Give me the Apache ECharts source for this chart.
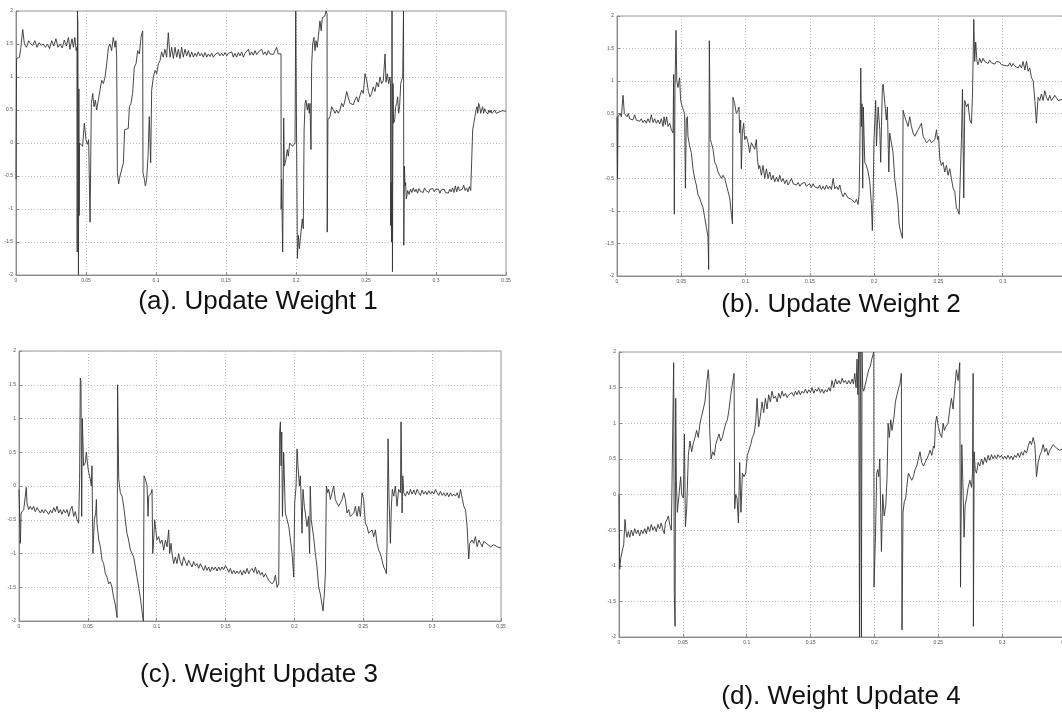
<!DOCTYPE html>
<html><head><meta charset="utf-8">
<script src="https://cdn.jsdelivr.net/npm/echarts@6/dist/echarts.min.js"></script>
<style>html,body{margin:0;padding:0;overflow:hidden;background:#fff}#c{width:1076px;height:713px}</style>
</head><body><div id="c"></div><script>
// [time (s), weight value]
const w1 = [[0,-0.55],[0.0004,1.28],[0.0025,1.3],[0.0035,1.45],[0.0048,1.72],[0.006,1.5],[0.0075,1.45],[0.009,1.55],[0.0105,1.5],[0.012,1.48],[0.0135,1.55],[0.015,1.45],[0.0165,1.52],[0.018,1.48],[0.0195,1.5],[0.021,1.45],[0.0225,1.5],[0.024,1.43],[0.0255,1.55],[0.027,1.47],[0.0285,1.58],[0.03,1.45],[0.0315,1.5],[0.033,1.44],[0.0345,1.56],[0.036,1.47],[0.0375,1.6],[0.0385,1.42],[0.04,1.58],[0.041,1.45],[0.042,1.6],[0.043,1.4],[0.0436,1.45],[0.0437,-1.65],[0.0439,2.0],[0.0442,1.8],[0.0446,-2.0],[0.0449,0.82],[0.0451,-1.1],[0.0454,0.0],[0.0476,-0.05],[0.0488,0.3],[0.05,0.05],[0.051,-0.02],[0.0519,0.05],[0.0529,-1.2],[0.0538,0.6],[0.0548,0.75],[0.0557,0.55],[0.0567,0.65],[0.0576,0.5],[0.0588,0.65],[0.06,0.8],[0.0612,0.95],[0.0624,0.9],[0.0636,1.0],[0.0648,1.2],[0.066,1.45],[0.0671,1.5],[0.0683,1.4],[0.0695,1.6],[0.0707,1.45],[0.0714,1.55],[0.0719,1.3],[0.0724,-0.45],[0.0733,-0.62],[0.0743,-0.5],[0.0757,-0.5],[0.0767,-0.3],[0.0776,0.2],[0.079,0.22],[0.0802,0.22],[0.081,0.55],[0.0821,0.6],[0.0833,0.75],[0.0845,1.15],[0.0857,1.2],[0.0869,1.4],[0.0881,1.35],[0.0893,1.6],[0.0905,1.7],[0.0907,-0.45],[0.0917,-0.55],[0.0924,-0.65],[0.0933,-0.55],[0.0943,-0.2],[0.0952,0.4],[0.0962,-0.3],[0.0969,0.8],[0.0981,1.0],[0.0993,1.1],[0.1005,1.05],[0.1017,1.2],[0.1029,1.25],[0.104,1.38],[0.1052,1.3],[0.1064,1.42],[0.1076,1.3],[0.1088,1.67],[0.11,1.3],[0.1112,1.45],[0.1124,1.28],[0.1136,1.45],[0.1148,1.3],[0.116,1.42],[0.1171,1.28],[0.1183,1.45],[0.1195,1.3],[0.1207,1.42],[0.1219,1.32],[0.1231,1.4],[0.1243,1.3],[0.1255,1.38],[0.1267,1.3],[0.1279,1.36],[0.129,1.31],[0.1302,1.38],[0.1314,1.32],[0.1326,1.36],[0.1338,1.3],[0.135,1.37],[0.1362,1.3],[0.1374,1.35],[0.1386,1.31],[0.1398,1.36],[0.141,1.3],[0.1422,1.34],[0.1433,1.31],[0.1445,1.37],[0.1457,1.32],[0.1469,1.36],[0.1481,1.32],[0.1493,1.37],[0.1505,1.32],[0.1517,1.36],[0.1529,1.34],[0.1541,1.38],[0.1552,1.3],[0.1564,1.36],[0.1576,1.3],[0.1588,1.37],[0.16,1.32],[0.1612,1.38],[0.1624,1.3],[0.1636,1.36],[0.1648,1.34],[0.166,1.42],[0.1671,1.33],[0.1683,1.38],[0.1695,1.33],[0.1707,1.4],[0.1719,1.34],[0.1731,1.38],[0.1743,1.35],[0.1755,1.42],[0.1767,1.34],[0.1779,1.38],[0.179,1.33],[0.1802,1.4],[0.1814,1.35],[0.1826,1.37],[0.1838,1.34],[0.185,1.4],[0.1862,1.45],[0.1872,1.35],[0.1881,1.33],[0.1893,1.35],[0.1894,-1.0],[0.1897,-0.55],[0.19,-1.0],[0.1905,-1.65],[0.1912,0.38],[0.1917,-0.35],[0.1928,-0.25],[0.1938,-0.1],[0.1945,-0.2],[0.1955,0.0],[0.1975,-0.05],[0.1993,0.0],[0.1998,2.0],[0.2001,2.0],[0.201,-1.75],[0.2017,-1.4],[0.2024,-1.6],[0.2029,-1.5],[0.2038,-1.3],[0.2045,-1.15],[0.2052,-1.3],[0.2058,0.2],[0.2065,0.6],[0.2071,0.65],[0.2081,0.5],[0.2088,0.6],[0.2095,0.45],[0.21,0.6],[0.2107,-0.1],[0.2112,1.2],[0.2119,1.5],[0.2128,1.6],[0.2136,1.4],[0.2143,1.55],[0.2152,1.45],[0.216,1.62],[0.2171,1.85],[0.218,1.7],[0.2188,1.9],[0.2205,1.92],[0.2215,2.0],[0.2222,1.95],[0.2223,-1.35],[0.2228,0.35],[0.2243,0.4],[0.2255,0.55],[0.2267,0.5],[0.2279,0.45],[0.229,0.5],[0.2302,0.45],[0.2314,0.5],[0.2326,0.6],[0.2338,0.55],[0.235,0.65],[0.2362,0.78],[0.2374,0.68],[0.2386,0.6],[0.2398,0.62],[0.241,0.58],[0.2421,0.65],[0.2433,0.7],[0.2445,0.62],[0.2457,0.72],[0.2469,0.8],[0.2481,0.75],[0.2493,1.05],[0.2505,0.95],[0.2517,0.78],[0.2529,0.7],[0.254,0.75],[0.2552,0.85],[0.2564,0.78],[0.2576,0.92],[0.2588,0.85],[0.26,1.0],[0.2612,0.9],[0.2624,0.95],[0.2636,1.35],[0.2643,0.92],[0.2652,1.05],[0.2662,0.9],[0.2671,1.0],[0.2675,0.9],[0.2676,-1.25],[0.2679,-0.6],[0.2683,-1.5],[0.2686,2.0],[0.2689,-1.95],[0.2693,0.9],[0.2697,0.3],[0.2705,0.35],[0.2712,0.55],[0.2719,0.6],[0.2726,0.7],[0.2733,0.45],[0.274,0.55],[0.2748,0.9],[0.2755,0.95],[0.2762,1.0],[0.2768,2.0],[0.277,-1.55],[0.2774,-0.35],[0.2779,-0.65],[0.2783,-0.6],[0.2788,-0.85],[0.2798,-0.72],[0.2808,-0.78],[0.2818,-0.7],[0.2828,-0.75],[0.2838,-0.68],[0.2848,-0.74],[0.2858,-0.7],[0.2868,-0.76],[0.2878,-0.69],[0.2888,-0.73],[0.2898,-0.7],[0.2908,-0.75],[0.2918,-0.68],[0.2928,-0.72],[0.2938,-0.7],[0.2948,-0.75],[0.2958,-0.7],[0.2968,-0.73],[0.2978,-0.69],[0.2988,-0.74],[0.2998,-0.7],[0.3008,-0.72],[0.3018,-0.7],[0.3028,-0.76],[0.3038,-0.71],[0.3048,-0.74],[0.3058,-0.7],[0.3068,-0.75],[0.3078,-0.72],[0.3088,-0.76],[0.3098,-0.7],[0.3108,-0.74],[0.3118,-0.68],[0.3128,-0.75],[0.3138,-0.65],[0.3148,-0.74],[0.3158,-0.66],[0.3168,-0.72],[0.3178,-0.75],[0.3188,-0.7],[0.3198,-0.64],[0.3208,-0.72],[0.3218,-0.68],[0.3228,-0.74],[0.3238,-0.66],[0.3248,-0.72],[0.3256,-0.7],[0.3262,0.2],[0.327,0.3],[0.3278,0.4],[0.3286,0.5],[0.3293,0.55],[0.3298,0.45],[0.3305,0.6],[0.3312,0.55],[0.3319,0.45],[0.3326,0.5],[0.3333,0.55],[0.334,0.45],[0.3348,0.52],[0.3355,0.48],[0.3362,0.5],[0.337,0.44],[0.3378,0.5],[0.3386,0.46],[0.3393,0.5],[0.34,0.45],[0.341,0.48],[0.342,0.5],[0.343,0.45],[0.344,0.48],[0.345,0.47],[0.3475,0.49],[0.35,0.48]];

const w2 = [[0,0.45],[0.0004,-0.5],[0.0008,0.45],[0.0015,0.42],[0.0023,0.5],[0.0034,0.45],[0.0047,0.78],[0.0057,0.5],[0.0067,0.48],[0.0078,0.45],[0.0088,0.5],[0.0099,0.42],[0.0112,0.45],[0.0124,0.4],[0.0137,0.48],[0.015,0.4],[0.0163,0.42],[0.0176,0.38],[0.0189,0.42],[0.0202,0.36],[0.0215,0.4],[0.0228,0.35],[0.0241,0.42],[0.0254,0.36],[0.0267,0.48],[0.028,0.36],[0.0293,0.42],[0.0306,0.35],[0.0319,0.4],[0.0332,0.34],[0.0345,0.42],[0.0358,0.3],[0.0366,0.45],[0.0376,0.33],[0.0386,0.45],[0.0397,0.3],[0.041,0.35],[0.0423,0.25],[0.0436,0.2],[0.044,0.2],[0.0441,1.1],[0.0446,-1.05],[0.0451,0.9],[0.0459,1.78],[0.0465,1.0],[0.0474,0.9],[0.0487,1.05],[0.0495,0.7],[0.0508,0.6],[0.0519,0.62],[0.0526,0.5],[0.0532,-0.65],[0.0539,0.4],[0.0547,0.45],[0.0552,0.15],[0.0565,0.0],[0.0578,-0.1],[0.0591,-0.35],[0.0604,-0.5],[0.0617,-0.6],[0.063,-0.75],[0.0643,-0.8],[0.0656,-0.88],[0.0669,-0.95],[0.0682,-1.1],[0.0695,-1.25],[0.0708,-1.4],[0.0713,-1.9],[0.0718,1.62],[0.0726,0.1],[0.0734,0.05],[0.0747,-0.05],[0.076,-0.25],[0.0773,-0.3],[0.0786,-0.4],[0.0799,-0.45],[0.0812,-0.5],[0.0825,-0.45],[0.0838,-0.5],[0.0851,-0.6],[0.0864,-0.7],[0.0877,-0.8],[0.089,-1.05],[0.0898,-1.2],[0.0902,0.75],[0.0915,0.65],[0.0928,0.5],[0.0941,0.55],[0.0949,0.6],[0.0954,0.2],[0.0962,0.4],[0.0967,-0.35],[0.0975,0.2],[0.0985,0.35],[0.0993,0.1],[0.1006,0.15],[0.1019,0.05],[0.1032,-0.1],[0.1045,0.05],[0.1058,0.0],[0.1071,-0.05],[0.1084,0.1],[0.1092,-0.2],[0.1102,-0.35],[0.111,-0.3],[0.1123,-0.45],[0.1136,-0.3],[0.1149,-0.5],[0.1162,-0.35],[0.1175,-0.5],[0.1188,-0.4],[0.1201,-0.52],[0.1214,-0.45],[0.1227,-0.55],[0.124,-0.48],[0.1253,-0.55],[0.1266,-0.45],[0.1279,-0.55],[0.1292,-0.5],[0.1305,-0.58],[0.1318,-0.52],[0.1331,-0.6],[0.1344,-0.55],[0.1357,-0.5],[0.137,-0.58],[0.1383,-0.55],[0.1396,-0.6],[0.1409,-0.56],[0.1422,-0.62],[0.1435,-0.58],[0.1447,-0.6],[0.146,-0.56],[0.1473,-0.62],[0.1486,-0.6],[0.1499,-0.58],[0.1512,-0.64],[0.1525,-0.58],[0.1538,-0.63],[0.1551,-0.6],[0.1564,-0.65],[0.1577,-0.6],[0.159,-0.67],[0.1603,-0.62],[0.1616,-0.67],[0.1629,-0.6],[0.1642,-0.66],[0.1655,-0.62],[0.1668,-0.67],[0.1681,-0.5],[0.1694,-0.66],[0.1707,-0.62],[0.172,-0.67],[0.1733,-0.6],[0.1746,-0.72],[0.1759,-0.78],[0.1772,-0.72],[0.1785,-0.75],[0.1798,-0.8],[0.1811,-0.77],[0.1824,-0.82],[0.1836,-0.8],[0.1849,-0.87],[0.1862,-0.82],[0.1875,-0.9],[0.1883,-0.75],[0.1888,-0.2],[0.1896,1.2],[0.1901,0.3],[0.1906,0.65],[0.1911,-0.65],[0.1916,0.6],[0.1927,-0.25],[0.194,-0.3],[0.1953,-0.4],[0.1966,-0.55],[0.1979,-0.9],[0.1986,-1.3],[0.1992,-0.8],[0.1999,0.1],[0.2012,0.7],[0.2018,0.0],[0.2031,0.6],[0.2044,0.25],[0.2051,-0.25],[0.2057,0.3],[0.2064,0.9],[0.207,0.95],[0.2083,0.95],[0.2095,0.4],[0.2103,0.6],[0.2114,-0.4],[0.2121,0.2],[0.2134,0.2],[0.2147,-0.1],[0.216,-0.5],[0.2173,-0.7],[0.2186,-0.9],[0.2194,-1.2],[0.2204,-1.3],[0.222,-1.42],[0.2225,0.55],[0.2238,0.45],[0.2251,0.45],[0.2264,0.3],[0.2277,0.45],[0.229,0.3],[0.2303,0.2],[0.2316,0.15],[0.2329,0.2],[0.2342,0.25],[0.2355,0.3],[0.2368,0.35],[0.2381,0.15],[0.2394,0.1],[0.2407,0.05],[0.242,0.08],[0.2433,0.1],[0.2446,0.05],[0.2459,0.05],[0.2472,0.1],[0.2485,0.25],[0.2493,0.1],[0.2501,0.15],[0.2511,-0.2],[0.2523,-0.3],[0.2536,-0.25],[0.2549,-0.4],[0.2562,-0.3],[0.2575,-0.45],[0.2588,-0.35],[0.2601,-0.5],[0.2614,-0.65],[0.2627,-0.7],[0.264,-0.95],[0.2653,-1.0],[0.2661,-1.05],[0.2671,-0.4],[0.2679,0.1],[0.2687,0.87],[0.2697,-0.8],[0.2705,0.7],[0.2718,0.6],[0.2731,0.65],[0.2744,0.4],[0.2757,0.35],[0.2765,0.8],[0.2775,1.95],[0.2782,1.3],[0.279,1.6],[0.28,1.3],[0.2808,1.25],[0.2821,1.35],[0.2834,1.28],[0.2847,1.35],[0.286,1.3],[0.2873,1.33],[0.2886,1.27],[0.2899,1.32],[0.2912,1.28],[0.2925,1.31],[0.2938,1.26],[0.2951,1.3],[0.2964,1.27],[0.2977,1.29],[0.299,1.25],[0.3003,1.28],[0.3016,1.24],[0.3029,1.27],[0.3042,1.23],[0.3055,1.28],[0.3068,1.22],[0.3081,1.27],[0.3094,1.23],[0.3107,1.26],[0.312,1.2],[0.3133,1.25],[0.3146,1.2],[0.3159,1.3],[0.3172,1.17],[0.3185,1.3],[0.3198,1.15],[0.321,1.2],[0.3224,1.05],[0.3237,1.0],[0.325,0.7],[0.3262,0.35],[0.3275,0.75],[0.3288,0.7],[0.3301,0.8],[0.3314,0.7],[0.3327,0.85],[0.334,0.75],[0.3353,0.7],[0.3366,0.78],[0.3379,0.7],[0.3392,0.72],[0.3405,0.78],[0.3418,0.75],[0.3431,0.7],[0.3444,0.72],[0.347,0.72],[0.35,0.7]];

const w3 = [[0,-0.05],[0.001,-0.85],[0.0015,-0.4],[0.0022,-0.4],[0.0034,-0.35],[0.0046,-0.15],[0.0053,-0.02],[0.0058,-0.25],[0.007,-0.35],[0.0082,-0.3],[0.0094,-0.35],[0.0106,-0.3],[0.0118,-0.38],[0.0131,-0.32],[0.0143,-0.3],[0.0155,-0.4],[0.0167,-0.35],[0.0179,-0.4],[0.0191,-0.35],[0.0203,-0.38],[0.0215,-0.42],[0.0228,-0.36],[0.024,-0.4],[0.0252,-0.32],[0.0264,-0.38],[0.0276,-0.3],[0.0288,-0.4],[0.03,-0.35],[0.0312,-0.42],[0.0324,-0.35],[0.0337,-0.4],[0.0349,-0.35],[0.0361,-0.45],[0.0373,-0.35],[0.0385,-0.3],[0.0397,-0.45],[0.0409,-0.38],[0.0421,-0.5],[0.0433,-0.55],[0.044,0.1],[0.0445,1.6],[0.045,1.55],[0.0455,-0.45],[0.046,1.0],[0.0469,0.3],[0.0482,0.35],[0.0489,0.5],[0.0499,0.3],[0.0506,0.2],[0.0518,0.1],[0.0525,0.0],[0.053,0.3],[0.0537,-1.0],[0.0547,-0.5],[0.0557,-0.4],[0.0562,-0.2],[0.0566,-0.55],[0.0579,-0.8],[0.0591,-0.9],[0.0603,-1.1],[0.0615,-1.15],[0.0627,-1.3],[0.0639,-1.35],[0.0651,-1.45],[0.0663,-1.42],[0.0675,-1.5],[0.0687,-1.65],[0.0699,-1.75],[0.0712,-1.95],[0.0716,1.5],[0.0724,0.1],[0.0736,-0.1],[0.0748,-0.15],[0.076,-0.3],[0.0772,-0.5],[0.0784,-0.7],[0.0796,-0.8],[0.0809,-0.95],[0.0821,-1.0],[0.0833,-1.05],[0.0845,-1.2],[0.0857,-1.35],[0.0869,-1.5],[0.0881,-1.65],[0.0893,-1.85],[0.0903,-2.0],[0.0908,0.15],[0.0918,0.1],[0.093,0.0],[0.0937,-0.45],[0.0942,-0.15],[0.0954,-0.15],[0.0961,-0.1],[0.0966,-0.05],[0.0971,-1.0],[0.0978,-0.8],[0.0985,-0.5],[0.0993,-0.65],[0.1002,-0.8],[0.1014,-0.75],[0.1026,-0.85],[0.1038,-0.8],[0.1051,-0.95],[0.1063,-0.8],[0.1075,-0.9],[0.1087,-0.65],[0.1094,-1.0],[0.1104,-0.85],[0.1111,-1.0],[0.1123,-1.15],[0.1135,-1.05],[0.1147,-1.15],[0.1159,-1.0],[0.1171,-1.12],[0.1183,-1.18],[0.1196,-1.05],[0.1208,-1.12],[0.122,-1.18],[0.1232,-1.1],[0.1244,-1.15],[0.1256,-1.2],[0.1268,-1.12],[0.128,-1.18],[0.1293,-1.15],[0.1305,-1.22],[0.1317,-1.15],[0.1329,-1.2],[0.1341,-1.25],[0.1353,-1.18],[0.1365,-1.25],[0.1377,-1.2],[0.1389,-1.27],[0.1402,-1.2],[0.1414,-1.24],[0.1426,-1.2],[0.1438,-1.26],[0.145,-1.2],[0.1462,-1.25],[0.1474,-1.2],[0.1486,-1.24],[0.1499,-1.18],[0.1511,-1.22],[0.1523,-1.28],[0.1535,-1.22],[0.1547,-1.3],[0.1559,-1.25],[0.1571,-1.3],[0.1583,-1.26],[0.1595,-1.3],[0.1608,-1.25],[0.162,-1.32],[0.1632,-1.25],[0.1644,-1.3],[0.1656,-1.22],[0.1668,-1.3],[0.168,-1.25],[0.1692,-1.22],[0.1705,-1.28],[0.1717,-1.2],[0.1729,-1.3],[0.1741,-1.25],[0.1753,-1.32],[0.1765,-1.28],[0.1777,-1.35],[0.1789,-1.3],[0.1801,-1.32],[0.1814,-1.4],[0.1826,-1.38],[0.1838,-1.45],[0.185,-1.42],[0.1862,-1.32],[0.1874,-1.5],[0.1886,-1.45],[0.1893,0.8],[0.1898,0.95],[0.1903,0.3],[0.1908,0.8],[0.1913,-0.45],[0.1922,0.5],[0.1934,-0.4],[0.1947,-0.5],[0.1959,-0.6],[0.1971,-0.8],[0.1983,-1.0],[0.1995,-1.35],[0.2002,-0.25],[0.2012,0.0],[0.2019,0.55],[0.2026,0.3],[0.2036,0.0],[0.2043,0.15],[0.205,-0.3],[0.2055,-0.7],[0.2062,-0.05],[0.2072,-0.3],[0.2079,-0.4],[0.2091,-0.6],[0.2103,-0.45],[0.211,-1.0],[0.2115,0.0],[0.2122,-0.5],[0.2132,-0.5],[0.2139,-0.75],[0.2152,-1.0],[0.2164,-1.2],[0.2176,-1.5],[0.2188,-1.6],[0.22,-1.75],[0.2208,-1.85],[0.2217,-1.6],[0.2225,-1.3],[0.2232,0.0],[0.2242,-0.1],[0.2249,-0.05],[0.2261,-0.2],[0.2273,-0.1],[0.2285,0.0],[0.2297,-0.2],[0.2309,-0.25],[0.2321,-0.3],[0.2334,-0.25],[0.2346,-0.2],[0.2358,-0.1],[0.237,-0.2],[0.2382,-0.4],[0.2394,-0.35],[0.2406,-0.45],[0.2418,-0.45],[0.2431,-0.4],[0.2443,-0.3],[0.2455,-0.45],[0.2467,-0.3],[0.2479,-0.45],[0.2491,-0.1],[0.2503,-0.2],[0.2515,-0.55],[0.2527,-0.6],[0.2539,-0.7],[0.2552,-0.7],[0.2564,-0.65],[0.2576,-0.75],[0.2588,-0.65],[0.26,-0.85],[0.2612,-0.95],[0.2624,-1.0],[0.2636,-1.1],[0.2648,-1.2],[0.2661,-1.25],[0.2668,-1.3],[0.2673,-0.8],[0.268,0.7],[0.2687,-0.2],[0.2697,-0.85],[0.2704,-0.3],[0.2711,-0.05],[0.2721,-0.15],[0.2733,0.0],[0.2745,-0.3],[0.2757,-0.05],[0.277,-0.1],[0.2774,0.95],[0.2782,-0.4],[0.2787,0.15],[0.2794,-0.1],[0.2806,-0.15],[0.2818,-0.08],[0.283,-0.13],[0.2842,-0.05],[0.2854,-0.12],[0.2867,-0.06],[0.2879,-0.13],[0.2891,-0.05],[0.2903,-0.1],[0.2915,-0.14],[0.2927,-0.06],[0.2939,-0.12],[0.2951,-0.08],[0.2963,-0.13],[0.2976,-0.07],[0.2988,-0.12],[0.3,-0.08],[0.3012,-0.12],[0.3024,-0.05],[0.3036,-0.1],[0.3048,-0.14],[0.306,-0.08],[0.3073,-0.14],[0.3085,-0.1],[0.3097,-0.15],[0.3109,-0.1],[0.3121,-0.16],[0.3133,-0.1],[0.3145,-0.15],[0.3157,-0.12],[0.3169,-0.15],[0.3182,-0.1],[0.3194,-0.18],[0.3206,-0.05],[0.3218,-0.18],[0.323,-0.3],[0.3242,-0.35],[0.3254,-0.6],[0.3261,-0.9],[0.3266,-1.08],[0.3273,-0.85],[0.329,-0.8],[0.3302,-0.85],[0.3314,-0.75],[0.3327,-0.9],[0.3339,-0.8],[0.3351,-0.85],[0.3363,-0.9],[0.3375,-0.82],[0.3399,-0.86],[0.3424,-0.9],[0.3448,-0.87],[0.3472,-0.9],[0.35,-0.92]];

const w4 = [[0,0.0],[0.0005,-1.05],[0.0013,-0.9],[0.0026,-0.9],[0.0037,-0.7],[0.0047,-0.35],[0.0057,-0.55],[0.0063,-0.6],[0.0073,-0.52],[0.0084,-0.6],[0.0097,-0.5],[0.011,-0.58],[0.0123,-0.48],[0.0136,-0.55],[0.0149,-0.5],[0.0162,-0.58],[0.0175,-0.5],[0.0188,-0.55],[0.0201,-0.48],[0.0214,-0.55],[0.0227,-0.45],[0.024,-0.52],[0.0253,-0.42],[0.0266,-0.5],[0.0279,-0.45],[0.0292,-0.52],[0.0305,-0.42],[0.0318,-0.48],[0.0331,-0.4],[0.0344,-0.5],[0.0355,-0.55],[0.0363,-0.4],[0.0376,-0.35],[0.0386,-0.3],[0.0397,-0.42],[0.041,-0.5],[0.042,-0.48],[0.0428,1.85],[0.0433,-1.4],[0.0439,-1.85],[0.0444,1.35],[0.0449,0.2],[0.0457,-0.25],[0.047,-0.25],[0.0483,0.25],[0.0491,0.0],[0.0504,-0.05],[0.0512,0.85],[0.052,-0.45],[0.053,-0.2],[0.0543,0.55],[0.0556,0.75],[0.0569,0.6],[0.0582,0.72],[0.0595,0.8],[0.0608,0.9],[0.0621,0.8],[0.0634,1.0],[0.0647,1.1],[0.066,1.2],[0.0673,1.3],[0.0686,1.55],[0.0699,1.75],[0.0705,1.6],[0.071,0.9],[0.0721,0.5],[0.0734,0.6],[0.0747,0.55],[0.0757,0.7],[0.077,0.7],[0.0783,0.85],[0.0796,0.75],[0.0809,0.8],[0.0822,0.9],[0.0836,1.0],[0.0849,1.05],[0.0862,1.2],[0.0875,1.4],[0.0888,1.55],[0.0901,1.7],[0.0906,-0.2],[0.0914,0.0],[0.0924,-0.05],[0.0935,-0.4],[0.0945,0.45],[0.0955,-0.25],[0.0966,0.3],[0.0979,0.25],[0.0992,0.3],[0.1005,0.55],[0.1018,0.55],[0.1031,0.7],[0.1044,0.8],[0.1057,0.85],[0.107,1.0],[0.1081,1.35],[0.1094,0.95],[0.1107,1.1],[0.112,1.3],[0.1133,1.15],[0.1146,1.35],[0.1159,1.2],[0.1172,1.4],[0.1185,1.3],[0.1198,1.45],[0.1211,1.35],[0.1225,1.38],[0.1238,1.3],[0.1251,1.42],[0.1264,1.35],[0.1277,1.45],[0.129,1.38],[0.1303,1.42],[0.1316,1.36],[0.1329,1.4],[0.1342,1.38],[0.1355,1.43],[0.1368,1.38],[0.1381,1.45],[0.1394,1.4],[0.1407,1.46],[0.142,1.4],[0.1433,1.45],[0.1446,1.42],[0.1459,1.48],[0.1473,1.42],[0.1486,1.47],[0.1499,1.43],[0.1512,1.5],[0.1525,1.42],[0.1538,1.48],[0.1551,1.45],[0.1564,1.5],[0.1577,1.43],[0.159,1.48],[0.1603,1.42],[0.1616,1.47],[0.1629,1.44],[0.1642,1.5],[0.1655,1.45],[0.1668,1.6],[0.1681,1.5],[0.1695,1.62],[0.1708,1.55],[0.1721,1.6],[0.1734,1.55],[0.1747,1.63],[0.176,1.57],[0.1773,1.6],[0.1786,1.55],[0.1799,1.6],[0.1812,1.55],[0.1825,1.62],[0.1836,1.55],[0.1846,1.7],[0.1856,1.5],[0.1864,1.9],[0.187,1.4],[0.1877,2.0],[0.1883,-2.0],[0.1888,2.0],[0.1893,1.3],[0.1898,-2.0],[0.1903,2.0],[0.1908,1.5],[0.1916,1.45],[0.1929,1.55],[0.1942,1.65],[0.1955,1.75],[0.1968,1.8],[0.1979,1.9],[0.1995,2.0],[0.1997,-1.3],[0.2008,-0.6],[0.2018,0.3],[0.2026,0.35],[0.2034,0.25],[0.2042,0.5],[0.2049,-0.25],[0.2055,-0.8],[0.2065,0.0],[0.2076,-0.3],[0.2089,-0.15],[0.2099,0.25],[0.2107,1.0],[0.2117,0.8],[0.2128,1.05],[0.2138,0.9],[0.2146,0.88],[0.2154,1.1],[0.2164,1.3],[0.2177,1.4],[0.219,1.5],[0.22,1.55],[0.2211,1.7],[0.2216,-1.9],[0.2224,-0.25],[0.2234,-0.1],[0.2245,-0.05],[0.2253,0.1],[0.2266,0.3],[0.2279,0.25],[0.2292,0.2],[0.2305,0.25],[0.2318,0.35],[0.2331,0.4],[0.2344,0.5],[0.2357,0.6],[0.237,0.45],[0.2384,0.4],[0.2397,0.45],[0.241,0.5],[0.2423,0.55],[0.2436,0.62],[0.2449,0.55],[0.2462,0.68],[0.247,0.65],[0.2478,1.0],[0.2488,1.1],[0.2501,0.95],[0.2514,0.85],[0.2527,0.8],[0.2538,1.0],[0.2548,0.9],[0.2559,0.95],[0.2577,1.0],[0.259,1.2],[0.2603,1.35],[0.2616,1.2],[0.2629,1.5],[0.2642,1.75],[0.2655,1.6],[0.2668,1.85],[0.2674,-1.3],[0.2684,0.7],[0.2695,0.0],[0.2702,-0.6],[0.271,-0.15],[0.2721,-0.05],[0.2734,0.1],[0.2747,0.2],[0.276,0.1],[0.2768,0.3],[0.2773,1.7],[0.2775,-1.85],[0.2781,0.6],[0.2789,0.35],[0.2799,0.3],[0.2812,0.45],[0.2825,0.4],[0.2838,0.5],[0.2851,0.42],[0.2864,0.52],[0.2877,0.45],[0.289,0.55],[0.2903,0.48],[0.2916,0.56],[0.2929,0.5],[0.2942,0.55],[0.2955,0.5],[0.2968,0.56],[0.2981,0.52],[0.2994,0.55],[0.3007,0.5],[0.302,0.54],[0.3033,0.5],[0.3046,0.55],[0.3059,0.5],[0.3072,0.54],[0.3085,0.49],[0.3098,0.55],[0.3111,0.52],[0.3124,0.58],[0.3137,0.52],[0.315,0.6],[0.3163,0.55],[0.3176,0.62],[0.3191,0.58],[0.3204,0.68],[0.3217,0.75],[0.323,0.7],[0.3243,0.8],[0.3256,0.7],[0.3269,0.25],[0.3282,0.45],[0.3295,0.55],[0.3308,0.6],[0.3321,0.7],[0.3334,0.6],[0.3347,0.65],[0.336,0.55],[0.3373,0.62],[0.34,0.7],[0.3426,0.65],[0.3452,0.62],[0.348,0.65],[0.35,0.63]];

const seriesData = [w1, w2, w3, w4];
const captions = ['(a). Update Weight 1', '(b). Update Weight 2', '(c). Weight Update 3', '(d). Weight Update 4'];
const xRange = [0, 0.35, 0.05];
const yRange = [-2, 2, 0.5];

// layout (pixels)
const boxes = [
  {left: 16, top: 11, width: 490, height: 264},
  {left: 617, top: 16, width: 450, height: 260},
  {left: 19, top: 351, width: 482, height: 270},
  {left: 619, top: 352, width: 447, height: 285}
];
const capPos = [[258, 302], [841, 305], [259, 675], [841, 697]];

const axisColor = '#8a8a8a';
const gridLine = {show: true, lineStyle: {type: [1, 2], color: '#bdbdbd', width: 1}};
const fmt = v => String(parseFloat(v.toFixed(2)));

const chart = echarts.init(document.getElementById('c'), null, {renderer: 'canvas'});
chart.setOption({
  animation: false,
  backgroundColor: '#fff',
  grid: boxes.map(b => Object.assign({show: true, borderColor: '#999', borderWidth: 1, containLabel: false}, b)),
  xAxis: boxes.map((b, i) => ({
    type: 'value', gridIndex: i, min: xRange[0], max: xRange[1], interval: xRange[2],
    axisLine: {show: true, onZero: false, lineStyle: {color: axisColor, width: 1}},
    axisTick: {show: true, inside: true, length: 3, lineStyle: {color: axisColor}},
    axisLabel: {fontSize: 5, color: '#555', margin: 3, formatter: fmt, fontFamily: 'Liberation Sans'},
    splitLine: gridLine
  })),
  yAxis: boxes.map((b, i) => ({
    type: 'value', gridIndex: i, min: yRange[0], max: yRange[1], interval: yRange[2],
    axisLine: {show: true, onZero: false, lineStyle: {color: axisColor, width: 1}},
    axisTick: {show: true, inside: true, length: 3, lineStyle: {color: axisColor}},
    axisLabel: {fontSize: 5, color: '#555', margin: 3, formatter: fmt, fontFamily: 'Liberation Sans'},
    splitLine: gridLine
  })),
  series: seriesData.map((d, i) => ({
    type: 'line', xAxisIndex: i, yAxisIndex: i, data: d,
    showSymbol: false, symbol: 'none', clip: true, sampling: null,
    lineStyle: {color: '#333', width: 0.9}
  })),
  graphic: captions.map((t, i) => ({
    type: 'text', x: capPos[i][0], y: capPos[i][1], silent: true,
    style: {text: t, font: '26px "Liberation Sans", Arial, sans-serif', fill: '#111',
            textAlign: 'center', textVerticalAlign: 'middle', verticalAlign: 'middle'}
  }))
});
</script></body></html>
